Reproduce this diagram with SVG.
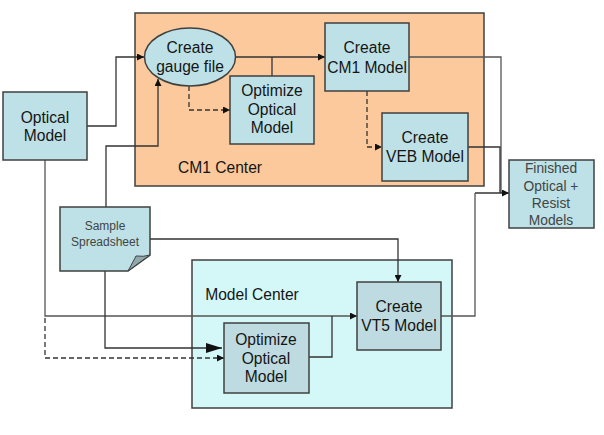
<svg xmlns="http://www.w3.org/2000/svg" width="604" height="435" viewBox="0 0 604 435">
<style>
.box{fill:#BDE1E6;stroke:#404040;stroke-width:1.5}
.box2{fill:#BDDBE0;stroke:#404040;stroke-width:1.5}
.t{font-family:"Liberation Sans",Arial,sans-serif;font-size:15.6px;fill:#151515;text-anchor:middle}
.ts{font-family:"Liberation Sans",Arial,sans-serif;font-size:13.8px;fill:#444;text-anchor:middle}
.c{fill:none;stroke:#333;stroke-width:1.3}
.g{fill:none;stroke:#555;stroke-width:1.3}
.d{fill:none;stroke:#333;stroke-width:1.3;stroke-dasharray:5,3}
</style>
<defs>
<marker id="a" viewBox="0 0 10 10" refX="10" refY="5" markerWidth="7" markerHeight="7" markerUnits="userSpaceOnUse" orient="auto"><path d="M0,0L10,5L0,10z" fill="#111"/></marker>
<marker id="big" viewBox="0 0 10 10" refX="10" refY="5" markerWidth="16" markerHeight="10" markerUnits="userSpaceOnUse" orient="auto" preserveAspectRatio="none"><path d="M0,0L10,5L0,10z" fill="#111"/></marker>
</defs>
<rect width="604" height="435" fill="#fff"/>
<g id="cm1-center">
<rect x="135" y="13" width="349" height="173" fill="#FBC99B" stroke="#404040" stroke-width="1.5"/>
<text class="t" x="220" y="173">CM1 Center</text>
</g>
<g id="model-center">
<rect x="192" y="260" width="260" height="148" fill="#D4F7F7" stroke="#404040" stroke-width="1.5"/>
<text class="t" x="252" y="300">Model Center</text>
</g>
<g id="connectors">
<polyline class="c" points="87,126 116,126 116,57 144,57" marker-end="url(#a)"/>
<polyline class="c" points="106,207 106,146 158,146 158,79" marker-end="url(#a)"/>
<polyline class="c" points="235,57 325,57" marker-end="url(#a)"/>
<polyline class="c" points="272,57 272,76"/>
<polyline class="d" points="189,86 189,110 230,110" marker-end="url(#a)"/>
<polyline class="d" points="367,91 367,147 382,147" marker-end="url(#a)"/>
<polyline class="g" points="409,57 501,57 501,193"/>
<polyline class="c" points="468,147 500,147 500,193"/>
<polyline class="c" points="475,193 509,193" marker-end="url(#a)"/>
<polyline class="g" points="441,316 475,316 475,193"/>
<polyline class="g" points="45,160 45,316 357,316" marker-end="url(#a)"/>
<polyline class="c" points="309,357 332,357 332,316"/>
<polyline class="d" points="45,318 45,358 224,358" marker-end="url(#a)"/>
<polyline class="c" points="105,271 105,348 222,348" stroke-width="1.6" marker-end="url(#big)"/>
<polyline class="c" points="150,239 398,239 398,282" marker-end="url(#a)"/>
</g>
<g id="optical-model">
<rect class="box" x="3" y="92" width="84" height="68"/>
<text class="t" x="45" y="123">Optical</text>
<text class="t" x="45" y="141">Model</text>
</g>
<g id="create-gauge-file">
<ellipse class="box" cx="190" cy="57" rx="45.5" ry="29"/>
<text class="t" x="190" y="53">Create</text>
<text class="t" x="190" y="72">gauge file</text>
</g>
<g id="optimize-optical-top">
<rect class="box" x="230" y="76" width="84" height="68"/>
<text class="t" x="272" y="96">Optimize</text>
<text class="t" x="272" y="115">Optical</text>
<text class="t" x="272" y="133">Model</text>
</g>
<g id="create-cm1-model">
<rect class="box" x="325" y="23" width="84" height="68"/>
<text class="t" x="367" y="53">Create</text>
<text class="t" x="367" y="73">CM1 Model</text>
</g>
<g id="create-veb-model">
<rect class="box" x="382" y="113" width="86" height="68"/>
<text class="t" x="425" y="143">Create</text>
<text class="t" x="425" y="162">VEB Model</text>
</g>
<g id="finished">
<rect class="box" x="509" y="160" width="85" height="68"/>
<text class="ts" x="551" y="173">Finished</text>
<text class="ts" x="551" y="191">Optical +</text>
<text class="ts" x="551" y="208">Resist</text>
<text class="ts" x="551" y="225">Models</text>
</g>
<g id="sample-spreadsheet">
<path d="M60,207L150,207L150,255L128,271L60,271Z" fill="#BDE1E6" stroke="#404040" stroke-width="1.5"/>
<path d="M128,271Q134,260 136,256Q144,257 150,255Q140,262 128,271Z" fill="#8FA9AD" stroke="#404040" stroke-width="1"/>
<text class="ts" x="105" y="230" style="font-size:12px">Sample</text>
<text class="ts" x="105" y="246" style="font-size:12px">Spreadsheet</text>
</g>
<g id="create-vt5-model">
<rect class="box2" x="357" y="282" width="84" height="68"/>
<text class="t" x="399" y="312">Create</text>
<text class="t" x="399" y="331">VT5 Model</text>
</g>
<g id="optimize-optical-bottom">
<rect class="box2" x="224" y="323" width="85" height="70"/>
<text class="t" x="266" y="345">Optimize</text>
<text class="t" x="266" y="364">Optical</text>
<text class="t" x="266" y="382">Model</text>
</g>
</svg>
